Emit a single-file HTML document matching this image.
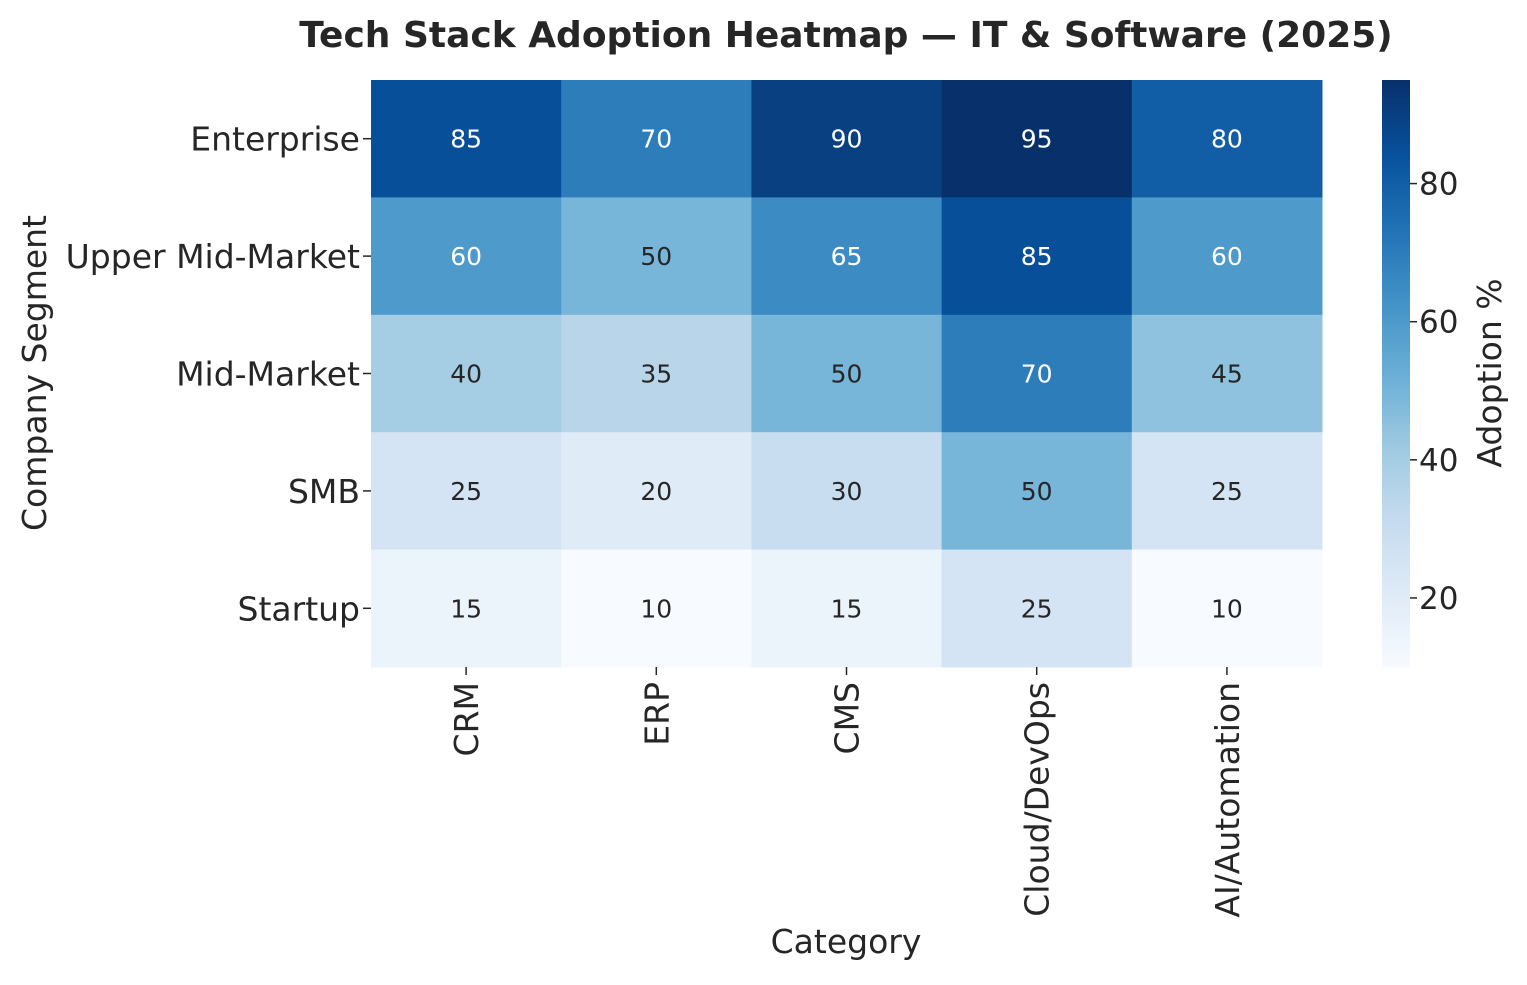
<!DOCTYPE html>
<html><head><meta charset="utf-8"><style>
html,body{margin:0;padding:0;background:#fff;}
svg text{font-family:"DejaVu Sans","Liberation Sans",sans-serif;}
</style></head><body>
<svg id="chart" width="1527" height="980" xmlns="http://www.w3.org/2000/svg">
<text x="846" y="47" text-anchor="middle" font-size="36" font-weight="bold" fill="#262626">Tech Stack Adoption Heatmap — IT &amp; Software (2025)</text>
<g id="cells"></g>
<g id="yticks"></g>
<g id="xticks"></g>
<g id="cbar"></g>
<text x="846" y="953" text-anchor="middle" font-size="33" fill="#262626">Category</text>
<text transform="translate(46,373) rotate(-90)" text-anchor="middle" font-size="33" fill="#262626">Company Segment</text>
<text transform="translate(1501,373) rotate(-90)" text-anchor="middle" font-size="33" fill="#262626">Adoption %</text>
</svg>
<script>
const categories = ["CRM","ERP","CMS","Cloud/DevOps","AI/Automation"];
const segments = ["Enterprise","Upper Mid-Market","Mid-Market","SMB","Startup"];
const values = [
 [85,70,90,95,80],
 [60,50,65,85,60],
 [40,35,50,70,45],
 [25,20,30,50,25],
 [15,10,15,25,10]
];
const cbarTicks = [20,40,60,80];
const vmin = 10, vmax = 95;

const NS="http://www.w3.org/2000/svg";
const X0=371, X1=1322, Y0=80, Y1=667;
const cw=(X1-X0)/categories.length, ch=(Y1-Y0)/segments.length;
const stops=["#f7fbff","#deebf7","#c6dbef","#9ecae1","#6baed6","#4292c6","#2171b5","#08519c","#08306b"];
function hex(h){return [1,3,5].map(i=>parseInt(h.substr(i,2),16));}
function color(v){
  let t=Math.max(0,Math.min(1,(v-vmin)/(vmax-vmin)))*(stops.length-1);
  let i=Math.min(Math.floor(t),stops.length-2), f=t-i;
  let a=hex(stops[i]), b=hex(stops[i+1]);
  return a.map((c,k)=>Math.round(c+(b[k]-c)*f));
}
function lum(c){const l=c.map(x=>{x/=255;return x<=0.03928?x/12.92:Math.pow((x+0.055)/1.055,2.4);});return 0.2126*l[0]+0.7152*l[1]+0.0722*l[2];}
function mk(tag,attrs,parent){const e=document.createElementNS(NS,tag);for(const k in attrs)e.setAttribute(k,attrs[k]);parent.appendChild(e);return e;}
const xs=i=>X0+i*cw, ys=j=>Y0+j*ch;
const cells=document.getElementById('cells');
values.forEach((row,j)=>row.forEach((v,i)=>{
  const c=color(v);
  const r=mk('rect',{x:xs(i),y:ys(j),width:cw+0.5,height:ch+0.5,fill:`rgb(${c})`},cells);
  
  
  const t=mk('text',{x:xs(i)+cw/2,y:ys(j)+ch/2+9,'text-anchor':'middle','font-size':'25',fill:lum(c)>0.408?'#262626':'#ffffff'},cells);
  
  
  t.textContent=v;
}));
const yt=document.getElementById('yticks');
segments.forEach((s,j)=>{
  const y=ys(j)+ch/2;
  mk('line',{x1:363,x2:371,y1:y,y2:y,stroke:'#262626','stroke-width':1.5},yt);
  const t=mk('text',{x:360,y:y+12,'text-anchor':'end','font-size':'33',fill:'#262626'},yt);
  
  
  t.textContent=s;
});
const xt=document.getElementById('xticks');
categories.forEach((c,i)=>{
  const x=xs(i)+cw/2;
  mk('line',{x1:x,x2:x,y1:667,y2:675,stroke:'#262626','stroke-width':1.5},xt);
  const t=mk('text',{transform:`translate(${x+12},682) rotate(-90)`,'text-anchor':'end','font-size':'33',fill:'#262626'},xt);
  
  
  t.textContent=c;
});
const cb=document.getElementById('cbar');
const CX=1382, CW=28;
const cs=v=>Y1-(v-vmin)/(vmax-vmin)*(Y1-Y0);
for(let k=0;k<200;k++){
  const v=vmin+(vmax-vmin)*k/200;
  const y=cs(v+(vmax-vmin)/200);
  mk('rect',{x:CX,y:y,width:CW,height:(Y1-Y0)/200+0.6,fill:`rgb(${color(v+(vmax-vmin)/400)})`},cb);
}
cbarTicks.forEach(v=>{
  const y=cs(v);
  mk('line',{x1:CX+CW,x2:CX+CW+7,y1:y,y2:y,stroke:'#262626','stroke-width':1.5},cb);
  const t=mk('text',{x:1419,y:y+11,'font-size':'31',fill:'#262626'},cb);
  
  
  t.textContent=v;
});
</script>
</body></html>
